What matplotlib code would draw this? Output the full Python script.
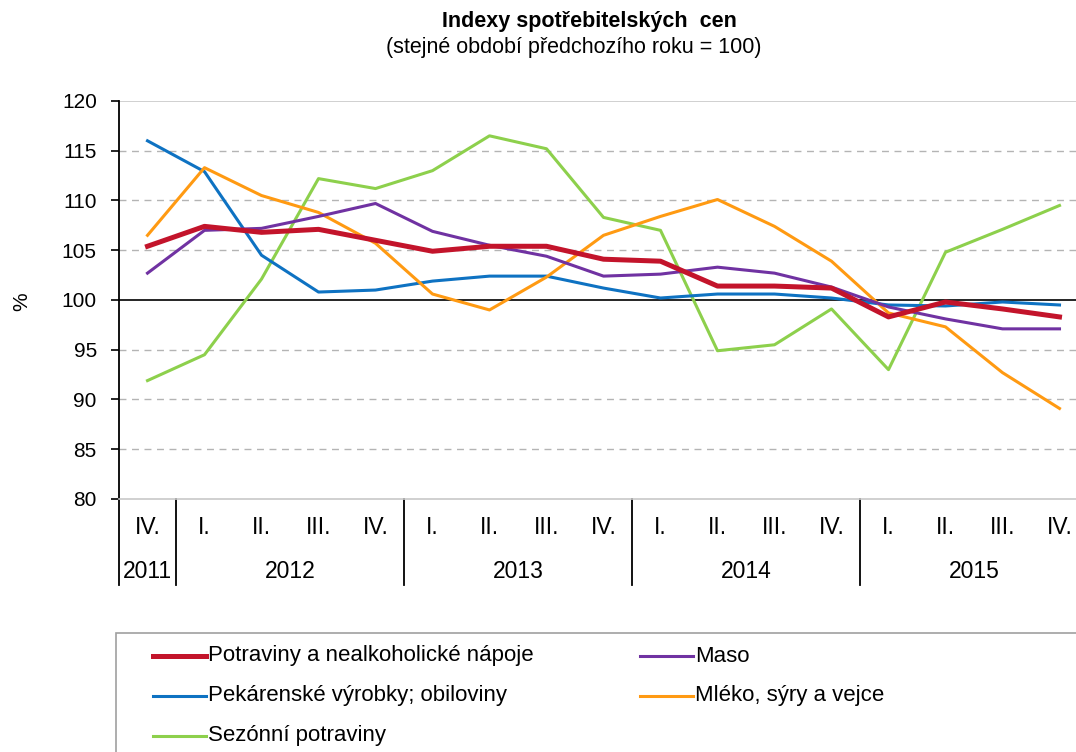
import matplotlib.pyplot as plt
import matplotlib.transforms as mtransforms
from matplotlib.lines import Line2D
from matplotlib.patches import Rectangle

plt.rcParams['font.family'] = ['Liberation Sans', 'DejaVu Sans']

# data
ctvrtleti = ['IV.', 'I.', 'II.', 'III.', 'IV.', 'I.', 'II.', 'III.', 'IV.',
             'I.', 'II.', 'III.', 'IV.', 'I.', 'II.', 'III.', 'IV.']
roky = ['2011', '2012', '2013', '2014', '2015']
ctvrtleti_v_roce = [1, 4, 4, 4, 4]

potraviny = [105.4, 107.4, 106.8, 107.1, 106.0, 104.9, 105.4, 105.4, 104.1,
             103.9, 101.4, 101.4, 101.2, 98.3, 99.8, 99.1, 98.3]
maso = [102.7, 107.0, 107.2, 108.4, 109.7, 106.9, 105.5, 104.4, 102.4,
        102.6, 103.3, 102.7, 101.3, 99.3, 98.1, 97.1, 97.1]
pekarenske = [116.0, 112.9, 104.5, 100.8, 101.0, 101.9, 102.4, 102.4, 101.2,
              100.2, 100.6, 100.6, 100.2, 99.5, 99.4, 99.8, 99.5]
mleko = [106.5, 113.3, 110.5, 108.8, 105.7, 100.6, 99.0, 102.3, 106.5,
         108.4, 110.1, 107.4, 103.9, 98.7, 97.3, 92.7, 89.1]
sezonni = [91.9, 94.5, 102.1, 112.2, 111.2, 113.0, 116.5, 115.2, 108.3,
           107.0, 94.9, 95.5, 99.1, 93.0, 104.8, 107.1, 109.5]

serie = [
    ('Potraviny a nealkoholické nápoje', potraviny, '#C3142B', 3.6),
    ('Maso', maso, '#7032A2', 2.2),
    ('Pekárenské výrobky; obiloviny', pekarenske, '#0E72C2', 2.2),
    ('Mléko, sýry a vejce', mleko, '#FF9A12', 2.2),
    ('Sezónní potraviny', sezonni, '#8DD04C', 2.2),
]

W, H = 1076, 752
fig = plt.figure(figsize=(W / 100, H / 100), dpi=100)

def fx(px):
    return px / W

def fy(py):
    return 1 - py / H

ax = fig.add_axes([fx(119), fy(499), fx(969), 398 / H])

x = list(range(len(ctvrtleti)))
# green at the back, red on top
for i in [4, 2, 3, 1, 0]:
    nazev, y, barva, lw = serie[i]
    ax.plot(x, y, color=barva, linewidth=lw, zorder=3)

ax.set_xlim(-0.5, len(x) - 0.5)
ax.set_ylim(80, 120)
ax.set_yticks(range(80, 121, 5))
for v in range(85, 120, 5):
    if v == 100:
        ax.axhline(v, color='black', linewidth=1.2, zorder=2)
    else:
        ax.axhline(v, color='#B4B4B4', linewidth=1.0, linestyle=(0, (5, 4)), zorder=1)
ax.axhline(120, color='#C8C8C8', linewidth=1.2, zorder=1)

for s in ['top', 'right']:
    ax.spines[s].set_visible(False)
ax.spines['bottom'].set_color('#C8C8C8')
ax.spines['bottom'].set_linewidth(1.2)
ax.spines['left'].set_color('black')
ax.spines['left'].set_linewidth(1.3)

ax.tick_params(axis='y', direction='out', length=6, width=1.2, pad=10,
               labelsize=15, colors='black')
ax.set_xticks(x)
ax.set_xticklabels(ctvrtleti)
ax.tick_params(axis='x', length=0, pad=12, labelsize=16.5)

# year labels and separators under the axis
trans = mtransforms.blended_transform_factory(ax.transData, ax.transAxes)
dole = -86 / 398
ax.plot([-0.5, -0.5], [0, dole], transform=trans, color='black', lw=1.3, clip_on=False)
start = 0
for rok, n in zip(roky, ctvrtleti_v_roce):
    ax.text(start + (n - 1) / 2, -72 / 398, rok, transform=trans,
            ha='center', va='center', fontsize=16.5)
    if start > 0:
        ax.plot([start - 0.5, start - 0.5], [0, dole], transform=trans,
                color='black', lw=1.3, clip_on=False)
    start += n

fig.text(fx(22), fy(302), '%', rotation=90, ha='center', va='center', fontsize=15)

fig.text(fx(589), fy(21), 'Indexy spotřebitelských  cen', ha='center', va='center',
         fontsize=15.5, fontweight='bold')
fig.text(fx(574), fy(48), '(stejné období předchozího roku = 100)', ha='center',
         va='center', fontsize=15.5)

# legend
fig.patches.append(Rectangle((fx(116), fy(760)), fx(990), (760 - 633) / H,
                             transform=fig.transFigure, fill=False,
                             edgecolor='#A0A0A0', linewidth=1.2))
pozice = [(153, 656), (640, 656), (153, 696), (640, 696), (153, 736)]
for (nazev, y, barva, lw), (px, py) in zip(serie, pozice):
    fig.add_artist(Line2D([fx(px), fx(px + 53)], [fy(py), fy(py)],
                          transform=fig.transFigure, color=barva, linewidth=lw))
    fig.text(fx(px + 55), fy(py), nazev, ha='left', va='center', fontsize=16)

fig.savefig('out.png', dpi=100)
